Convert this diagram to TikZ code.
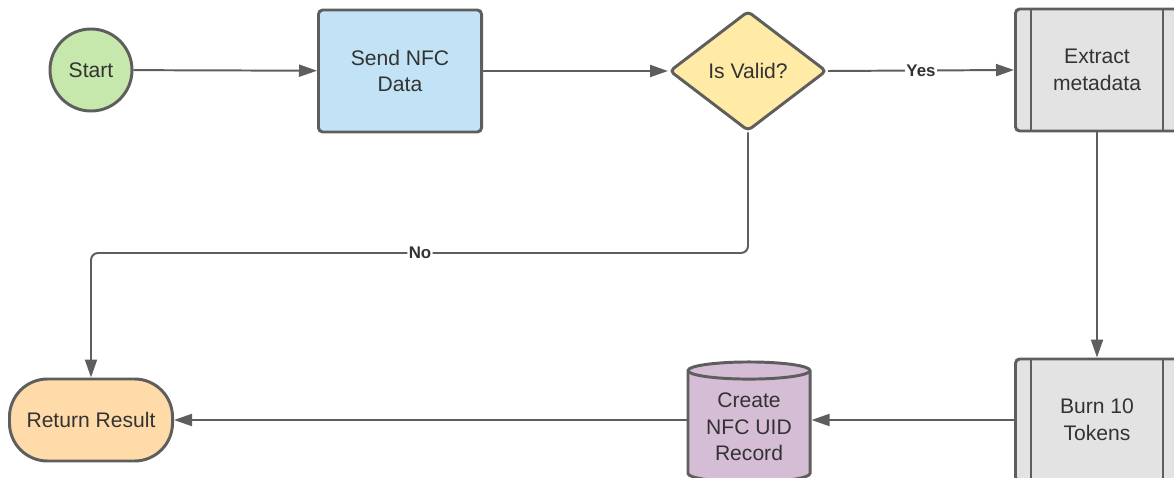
\documentclass[tikz,border=0pt]{standalone}
\usepackage{fontspec}
\setmainfont{Liberation Sans}
\usetikzlibrary{shapes.geometric,arrows.meta}

\definecolor{linegray}{HTML}{5E5E5E}
\definecolor{textgray}{HTML}{333333}
\definecolor{startgreen}{HTML}{C7E8AC}
\definecolor{sendblue}{HTML}{C2E3F6}
\definecolor{validyellow}{HTML}{FFEAA6}
\definecolor{procgray}{HTML}{E3E3E3}
\definecolor{recpurple}{HTML}{D5BDD5}
\definecolor{retorange}{HTML}{FFDBA9}

\begin{document}
\begin{tikzpicture}[x=0.025cm, y=-0.025cm,
    every node/.style={text=textgray, font=\fontsize{15}{19}\selectfont, align=center, inner sep=0pt},
    outlined/.style={draw=linegray, line width=2.1pt},
    flow/.style={draw=linegray, line width=1.4pt, -{Triangle[length=0.45cm, width=0.3cm]}},
    lbl/.style={fill=white, inner sep=1pt, font=\fontsize{12}{14}\selectfont\bfseries}]
    \useasboundingbox (0,0) rectangle (1174,478);

    % top row
    \node[outlined, circle, fill=startgreen, minimum size=2.05cm] (start) at (91,70) {Start};
    \node[outlined, rectangle, rounded corners=3pt, fill=sendblue, minimum width=4.075cm, minimum height=3.05cm] (send) at (400,71) {Send NFC\\Data};
    \node[outlined, diamond, rounded corners=3pt, fill=validyellow, minimum width=3.925cm, minimum height=3cm] (valid) at (748,71) {Is Valid?};
    \node[outlined, rectangle, rounded corners=3pt, fill=procgray, minimum width=4.075cm, minimum height=3.05cm] (extract) at (1097,70) {Extract\\metadata};
    \draw[outlined, line width=1.6pt] ([xshift=0.425cm]extract.north west) -- ([xshift=0.425cm]extract.south west);
    \draw[outlined, line width=1.6pt] ([xshift=-0.425cm]extract.north east) -- ([xshift=-0.425cm]extract.south east);

    % bottom row
    \node[outlined, rectangle, rounded corners=3pt, fill=procgray, minimum width=4.075cm, minimum height=3.05cm] (burn) at (1097,420) {Burn 10\\Tokens};
    \draw[outlined, line width=1.6pt] ([xshift=0.425cm]burn.north west) -- ([xshift=0.425cm]burn.south west);
    \draw[outlined, line width=1.6pt] ([xshift=-0.425cm]burn.north east) -- ([xshift=-0.425cm]burn.south east);
    \node[outlined, cylinder, shape border rotate=90, aspect=0.2, fill=recpurple, minimum width=3.05cm, minimum height=3cm] (record) at (749,427) {Create\\NFC UID\\Record};
    \node[outlined, rectangle, rounded corners=0.95cm, fill=retorange, minimum width=4.075cm, minimum height=2.05cm] (result) at (91,420) {Return Result};

    % connectors
    \draw[flow] (start) -- (send);
    \draw[flow] (send) -- (valid);
    \draw[flow] (valid.east) -- node[lbl] (yes) {Yes} (extract.west);
    \draw[flow] (extract) -- (burn);
    \draw[flow] (burn.west) -- (burn.west -| record.east);
    \draw[flow] (record.west |- result.east) -- (result.east);
    \coordinate (nomid) at (420,253);
    \draw[flow, rounded corners=5pt] (valid.south) |- (nomid) node[lbl] (no) {No} -| (result.north);
\end{tikzpicture}
\end{document}
